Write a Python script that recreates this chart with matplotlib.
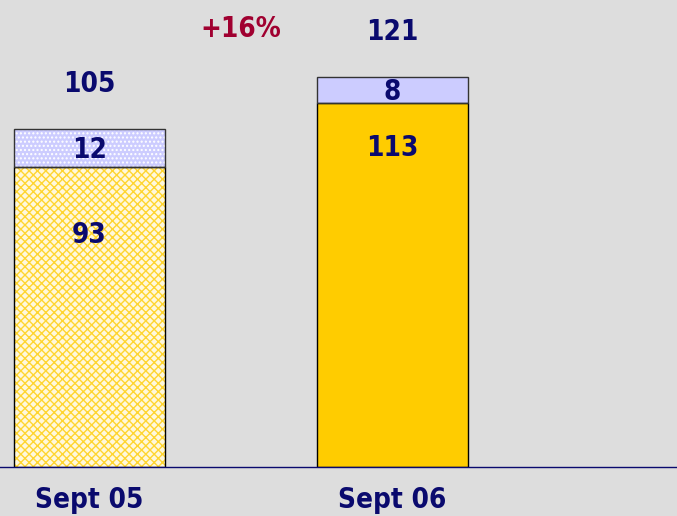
import numpy as np
import matplotlib
matplotlib.use("Agg")
import matplotlib.pyplot as plt

# data
periods = ["Sept 05", "Sept 06"]
base_vals = [93, 113]
top_vals = [12, 8]
growth_label = "+16%"

navy = "#0A0A6E"
bg = "#DDDDDD"

fig = plt.figure(figsize=(6.77, 5.16), dpi=100, facecolor=bg)
ax = fig.add_axes([0, 0.095, 1, 0.905], facecolor=bg)

x = np.arange(len(periods))
w = 0.498
totals = [b + t for b, t in zip(base_vals, top_vals)]

# lower segments: first hatched pale yellow, second solid gold
base_face = ["#FFF8DC", "#FFCC00"]
base_hatch = ["xxxx", None]
base_hcol = ["#FFD530", "#FFCC00"]
top_face = ["#CCCCFF", "#CCCCFF"]
top_hatch = ["....", None]

for i in range(len(periods)):
    ax.bar(x[i], base_vals[i], w, color=base_face[i], edgecolor=base_hcol[i],
           hatch=base_hatch[i], linewidth=0)
    ax.bar(x[i], top_vals[i], w, bottom=base_vals[i], color=top_face[i],
           edgecolor="white", hatch=top_hatch[i], linewidth=0)
    ax.bar(x[i], base_vals[i], w, fill=False, edgecolor="black", linewidth=1.0)
    ax.bar(x[i], top_vals[i], w, bottom=base_vals[i], fill=False,
           edgecolor="#333333", linewidth=1.0)

fs = 20
txt = dict(color=navy, fontweight="bold", ha="center", va="center",
           family="DejaVu Sans", stretch="condensed")
# inner value label offset below segment top (in data units)
inner_drop = [21, 14]
for i in range(len(periods)):
    ax.text(x[i], base_vals[i] + top_vals[i] / 2 - 0.5, str(top_vals[i]), fontsize=fs, **txt)
    ax.text(x[i], base_vals[i] - inner_drop[i], str(base_vals[i]), fontsize=fs, **txt)
    ax.text(x[i], totals[i] + 14, str(totals[i]), fontsize=fs, **txt)

ax.text(0.5, totals[1] + 15, growth_label, color="#A00030", fontweight="bold",
        ha="center", va="center", fontsize=fs, family="DejaVu Sans",
        stretch="condensed")

ax.set_xlim(-0.295, 1.939)
ax.set_ylim(0, 145)
for s in ["top", "left", "right"]:
    ax.spines[s].set_visible(False)
ax.spines["bottom"].set_color(navy)
ax.spines["bottom"].set_linewidth(1.0)
ax.set_yticks([])
ax.set_xticks(x)
ax.set_xticklabels(periods, color=navy, fontweight="bold", fontsize=fs,
                   stretch="condensed")
ax.tick_params(axis="x", length=0, pad=14)

fig.savefig("out.png", dpi=100, facecolor=bg)
